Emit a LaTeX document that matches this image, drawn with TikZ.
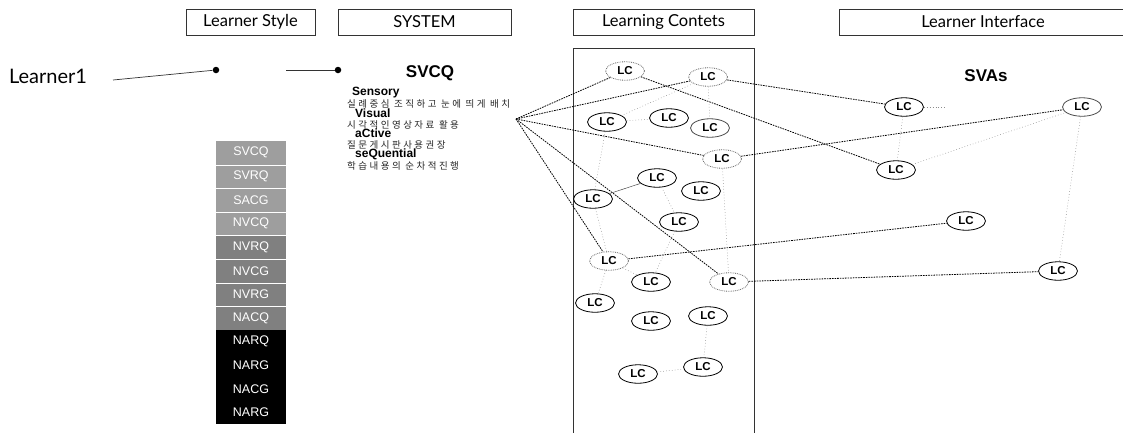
\documentclass[tikz,border=0pt]{standalone}
\usepackage{fontspec}
\usetikzlibrary{shapes.geometric}
\newfontfamily\arialf{Liberation Sans}
\newfontfamily\gillf{Lato}
\newfontfamily\krf[LetterSpace=26]{Noto Sans CJK KR}
\begin{document}
\begin{tikzpicture}[x=1pt,y=-1pt,
  hdr/.style={draw=black!80,line width=0.6pt,minimum height=26pt,inner sep=0pt,font=\gillf\fontsize{16.5}{16.5}\selectfont},
  lc/.style={ellipse,draw=black,line width=0.8pt,minimum width=39pt,minimum height=18.5pt,inner sep=0pt,font=\arialf\bfseries\fontsize{11.5}{11.5}\selectfont},
  lcd/.style={lc,draw=black!60,densely dotted},
  strong/.style={line width=0.8pt,dash pattern=on 1.6pt off 1pt},
  faint/.style={black!45,line width=0.5pt,dash pattern=on 0.7pt off 2.2pt},
  headb/.style={font=\arialf\bfseries\fontsize{12}{12}\selectfont,anchor=west,inner sep=0pt},
  kr/.style={font=\krf\fontsize{9.5}{9.5}\selectfont,anchor=west,inner sep=0pt,text=black!85},
  stackrow/.style={minimum width=70pt,minimum height=23.6pt,inner sep=0pt,text=white,font=\arialf\fontsize{12.5}{12.5}\selectfont},
  dotn/.style={circle,fill=black,inner sep=0pt,minimum size=6.5pt}
]
\useasboundingbox (0,0) rectangle (1123,432);

% header boxes
\node[hdr,minimum width=129pt] (hls) at (250.5,22) {Learner Style};
\node[hdr,minimum width=173pt] (hsys) at (424.5,22) {SYSTEM};
\node[hdr,minimum width=181pt] (hlc) at (663.5,22) {Learning Contets};
\draw[black!80,line width=0.6pt] (839,9) rectangle (1130,35);
\node[font=\gillf\fontsize{16.5}{16.5}\selectfont] (hli) at (983,22) {Learner Interface};

% learning contents column
\draw[black!80,line width=0.6pt] (573,440) -- (573,48) -- (754,48) -- (754,440);

% learner
\node[font=\gillf\fontsize{20}{20}\selectfont,inner sep=0pt] (learner) at (48,76) {Learner1};
\node[dotn] (d1) at (216,70) {};
\coordinate (s2) at (286,70);
\node[dotn] (d2) at (338,70) {};
\coordinate (l1) at (113,80);
\draw[black!80,line width=0.7pt] (l1) -- (d1);
\draw[black!80,line width=0.7pt] (s2) -- (d2);

% stack
\foreach \t [count=\i] in {SVCQ,SVRQ,SACG,NVCQ}
  \node[stackrow,fill=black!38] (r\i) at (251,141+23.6*\i-11.8) {\t};
\foreach \t [count=\i from 5] in {NVRQ,NVCG,NVRG,NACQ}
  \node[stackrow,fill=black!50] (r\i) at (251,141+23.6*\i-11.8) {\t};
\foreach \t [count=\i from 9] in {NARQ,NARG,NACG,NARG}
  \node[stackrow,fill=black] (r\i) at (251,141+23.6*\i-11.8) {\t};
\foreach \i in {1,...,7}
  \draw[white,line width=0.6pt] (r\i.south west) -- (r\i.south east);

% system text
\node[font=\arialf\bfseries\fontsize{17}{17}\selectfont] (svcq) at (430,73) {SVCQ};
\node[headb] (sen) at (352,92.5) {Sensory};
\node[kr] (k1) at (347,104) {실례중심 조직하고 눈에 띄게 배치};
\node[headb] (vis) at (355,113) {Visual};
\node[kr] (k2) at (347,124.5) {시각적인영상자료 활용};
\node[headb] (act) at (355,133.5) {aCtive};
\node[kr] (k3) at (347,145) {질문게시판사용권장};
\node[headb] (seq) at (355,154) {seQuential};
\node[kr] (k4) at (347,165.5) {학습내용의 순차적진행};
\coordinate (p0) at (516,119);

% LC nodes in learning contents
\node[lcd] (A) at (625,71) {LC};
\node[lcd] (B) at (708,77) {LC};
\node[lc] (C) at (607,122) {LC};
\node[lc] (D) at (669,118) {LC};
\node[lc,draw=black!70] (E) at (710,128) {LC};
\node[lcd] (F) at (722,159) {LC};
\node[lc] (G) at (657,178) {LC};
\node[lc] (H) at (701,191) {LC};
\node[lc] (I) at (593,199) {LC};
\node[lc] (J) at (679,222) {LC};
\node[lcd] (K) at (609,261) {LC};
\node[lc] (L) at (651,282) {LC};
\node[lcd] (M) at (729,282) {LC};
\node[lc] (N) at (595,303) {LC};
\node[lc] (O) at (651,321) {LC};
\node[lc] (P) at (708,316) {LC};
\node[lc] (Q) at (638,374) {LC};
\node[lc] (R) at (703,367) {LC};

% learner interface
\node[font=\arialf\bfseries\fontsize{17}{17}\selectfont] (svas) at (986,76) {SVAs};
\node[lc] (S1) at (904,107) {LC};
\node[lc,draw=black!70] (S2) at (1082,107) {LC};
\node[lc] (S3) at (896,170) {LC};
\node[lc] (S4) at (966,221) {LC};
\node[lc] (S5) at (1058,271) {LC};
\coordinate (stub) at (945,107);

% strong dashed connectors
\draw[strong] (p0) -- (A);
\draw[strong] (p0) -- (B);
\draw[strong] (p0) -- (F);
\draw[strong] (p0) -- (M);
\draw[strong] (p0) -- (K);
\draw[strong] (A) -- (S3);
\draw[strong] (B) -- (S1);
\draw[strong] (F) -- (S2);
\draw[strong] (K) -- (S4);
\draw[strong] (M) -- (S5);

% solid thin
\draw[black!70,line width=0.5pt] (I) -- (G);

% faint dotted
\draw[faint] (B) -- (C);
\draw[faint] (C) -- (D);
\draw[faint] (C) -- (I);
\draw[faint] (B) -- (E);
\draw[faint] (G) -- (J);
\draw[faint] (F) -- (M);
\draw[faint] (J) -- (L);
\draw[faint] (I) -- (K);
\draw[faint] (K) -- (N);
\draw[faint] (K) -- (L);
\draw[faint] (P) -- (R);
\draw[faint] (Q) -- (R);
\draw[faint] (S1) -- (stub);
\draw[faint] (S1) -- (S3);
\draw[faint] (S3) -- (S2);
\draw[faint] (S2) -- (S5);
\end{tikzpicture}
\end{document}
